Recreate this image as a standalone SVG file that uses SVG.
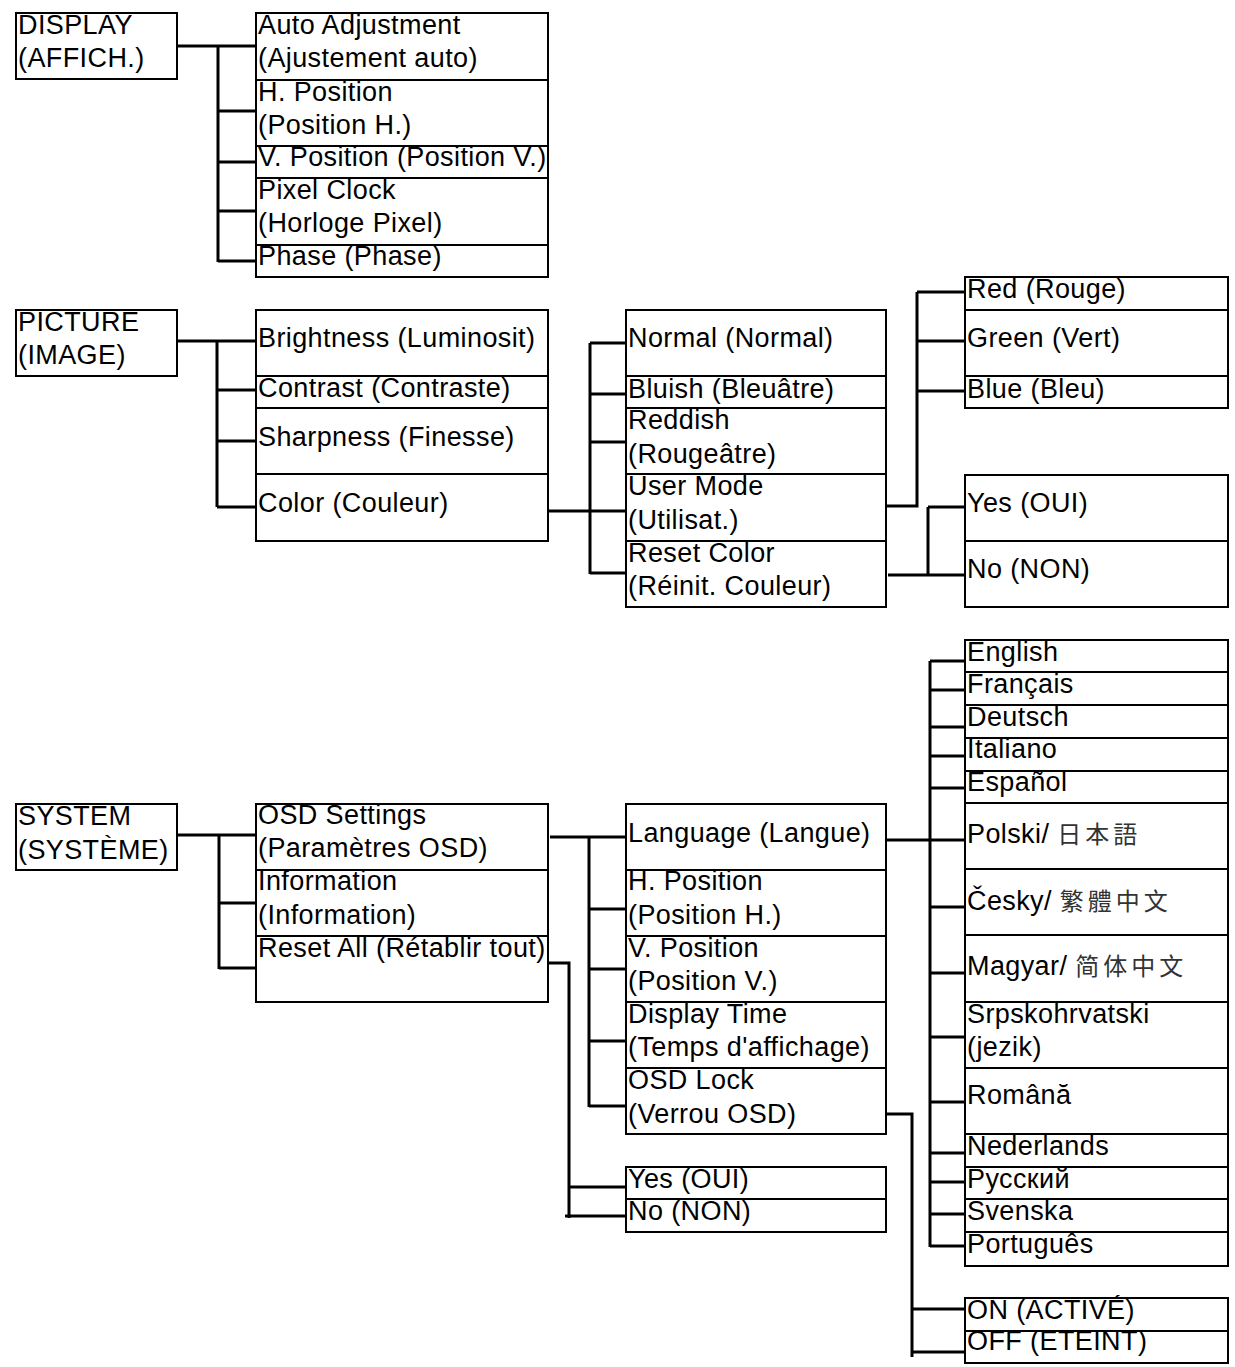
<svg xmlns="http://www.w3.org/2000/svg" width="1235" height="1367" viewBox="0 0 1235 1367">
<style>
.b{fill:#fff;stroke:#000;stroke-width:2}
.t{font-family:"Liberation Sans",Arial,sans-serif;font-size:27px;fill:#000;letter-spacing:0.4px}
.jp{font-family:"Noto Sans CJK JP",sans-serif;font-size:24px;fill:#333;letter-spacing:4px}
.tc{font-family:"Noto Sans CJK TC",sans-serif;font-size:24px;fill:#333;letter-spacing:4px}
.sc{font-family:"Noto Sans CJK SC",sans-serif;font-size:24px;fill:#333;letter-spacing:4px}
#connectors path{fill:none;stroke:#000;stroke-width:3}
</style>
<rect width="1235" height="1367" fill="#fff"/>
<g id="connectors">
<path d="M177,46H256M218,46V262M218,111H256M218,162H256M218,211H256M218,261H256"/>
<path d="M177,341H256M217,341V507M217,390H256M217,441H256M217,507H256"/>
<path d="M548,511H626M590,343V574M590,343H626M590,394H626M590,442H626M590,573H626"/>
<path d="M887,506H917V292M917,292H965M917,341H965M917,391H965"/>
<path d="M888,575H965M928,507V575M928,507H965"/>
<path d="M177,835H256M219,835V969M219,903H256M219,968H256"/>
<path d="M550,837H626M589,837V1107M589,909H626M589,969H626M589,1041H626M589,1106H626"/>
<path d="M548,963H569V1218M569,1187H626M565,1216H626"/>
<path d="M887,840H965M930,661V1247M930,661H965M930,690H965M930,727H965M930,756H965M930,788H965M930,907H965M930,973H965M930,1037H965M930,1102H965M930,1153H965M930,1182H965M930,1214H965M930,1246H965"/>
<path d="M887,1114H912V1357M912,1309H965M912,1352H965"/>
</g>
<g id="display"><rect class="b" x="16" y="13" width="161" height="66"/><text class="t" x="18" y="34">DISPLAY</text><text class="t" x="18" y="67">(AFFICH.)</text></g>
<g id="picture"><rect class="b" x="16" y="310" width="161" height="66"/><text class="t" x="18" y="331">PICTURE</text><text class="t" x="18" y="364">(IMAGE)</text></g>
<g id="system"><rect class="b" x="16" y="804" width="161" height="66"/><text class="t" x="18" y="825">SYSTEM</text><text class="t" x="18" y="859">(SYSTÈME)</text></g>

<g id="auto-adjustment"><rect class="b" x="256" y="13" width="292" height="67"/><text class="t" x="258" y="34">Auto Adjustment</text><text class="t" x="258" y="67">(Ajustement auto)</text></g>
<g id="display-h-position"><rect class="b" x="256" y="80" width="292" height="66"/><text class="t" x="258" y="101">H. Position</text><text class="t" x="258" y="134">(Position H.)</text></g>
<g id="display-v-position"><rect class="b" x="256" y="146" width="292" height="32"/><text class="t" x="258" y="166">V. Position (Position V.)</text></g>
<g id="pixel-clock"><rect class="b" x="256" y="178" width="292" height="67"/><text class="t" x="258" y="199">Pixel Clock</text><text class="t" x="258" y="232">(Horloge Pixel)</text></g>
<g id="phase"><rect class="b" x="256" y="245" width="292" height="32"/><text class="t" x="258" y="265">Phase (Phase)</text></g>

<g id="brightness"><rect class="b" x="256" y="310" width="292" height="66"/><text class="t" x="258" y="347">Brightness (Luminosit)</text></g>
<g id="contrast"><rect class="b" x="256" y="376" width="292" height="32"/><text class="t" x="258" y="397">Contrast (Contraste)</text></g>
<g id="sharpness"><rect class="b" x="256" y="408" width="292" height="66"/><text class="t" x="258" y="446">Sharpness (Finesse)</text></g>
<g id="color"><rect class="b" x="256" y="474" width="292" height="67"/><text class="t" x="258" y="512">Color (Couleur)</text></g>

<g id="normal"><rect class="b" x="626" y="310" width="260" height="66"/><text class="t" x="628" y="347">Normal (Normal)</text></g>
<g id="bluish"><rect class="b" x="626" y="376" width="260" height="32"/><text class="t" x="628" y="398">Bluish (Bleuâtre)</text></g>
<g id="reddish"><rect class="b" x="626" y="408" width="260" height="66"/><text class="t" x="628" y="429">Reddish</text><text class="t" x="628" y="463">(Rougeâtre)</text></g>
<g id="user-mode"><rect class="b" x="626" y="474" width="260" height="67"/><text class="t" x="628" y="495">User Mode</text><text class="t" x="628" y="529">(Utilisat.)</text></g>
<g id="reset-color"><rect class="b" x="626" y="541" width="260" height="66"/><text class="t" x="628" y="562">Reset Color</text><text class="t" x="628" y="595">(Réinit. Couleur)</text></g>

<g id="red"><rect class="b" x="965" y="277" width="263" height="33"/><text class="t" x="967" y="298">Red (Rouge)</text></g>
<g id="green"><rect class="b" x="965" y="310" width="263" height="66"/><text class="t" x="967" y="347">Green (Vert)</text></g>
<g id="blue"><rect class="b" x="965" y="376" width="263" height="32"/><text class="t" x="967" y="398">Blue (Bleu)</text></g>
<g id="color-yes"><rect class="b" x="965" y="475" width="263" height="66"/><text class="t" x="967" y="512">Yes (OUI)</text></g>
<g id="color-no"><rect class="b" x="965" y="541" width="263" height="66"/><text class="t" x="967" y="578">No (NON)</text></g>

<g id="osd-settings"><rect class="b" x="256" y="804" width="292" height="66"/><text class="t" x="258" y="824">OSD Settings</text><text class="t" x="258" y="857">(Paramètres OSD)</text></g>
<g id="information"><rect class="b" x="256" y="870" width="292" height="66"/><text class="t" x="258" y="890">Information</text><text class="t" x="258" y="924">(Information)</text></g>
<g id="reset-all"><rect class="b" x="256" y="936" width="292" height="66"/><text class="t" x="258" y="957">Reset All (Rétablir tout)</text></g>

<g id="language"><rect class="b" x="626" y="804" width="260" height="66"/><text class="t" x="628" y="842">Language (Langue)</text></g>
<g id="osd-h-position"><rect class="b" x="626" y="870" width="260" height="66"/><text class="t" x="628" y="890">H. Position</text><text class="t" x="628" y="924">(Position H.)</text></g>
<g id="osd-v-position"><rect class="b" x="626" y="936" width="260" height="66"/><text class="t" x="628" y="957">V. Position</text><text class="t" x="628" y="990">(Position V.)</text></g>
<g id="display-time"><rect class="b" x="626" y="1002" width="260" height="66"/><text class="t" x="628" y="1023">Display Time</text><text class="t" x="628" y="1056">(Temps d'affichage)</text></g>
<g id="osd-lock"><rect class="b" x="626" y="1068" width="260" height="66"/><text class="t" x="628" y="1089">OSD Lock</text><text class="t" x="628" y="1123">(Verrou OSD)</text></g>
<g id="reset-yes"><rect class="b" x="626" y="1167" width="260" height="32"/><text class="t" x="628" y="1188">Yes (OUI)</text></g>
<g id="reset-no"><rect class="b" x="626" y="1199" width="260" height="33"/><text class="t" x="628" y="1220">No (NON)</text></g>

<g id="english"><rect class="b" x="965" y="640" width="263" height="32"/><text class="t" x="967" y="661">English</text></g>
<g id="francais"><rect class="b" x="965" y="672" width="263" height="33"/><text class="t" x="967" y="693">Français</text></g>
<g id="deutsch"><rect class="b" x="965" y="705" width="263" height="33"/><text class="t" x="967" y="726">Deutsch</text></g>
<g id="italiano"><rect class="b" x="965" y="738" width="263" height="33"/><text class="t" x="967" y="758">Italiano</text></g>
<g id="espanol"><rect class="b" x="965" y="771" width="263" height="32"/><text class="t" x="967" y="791">Español</text></g>
<g id="polski"><rect class="b" x="965" y="803" width="263" height="66"/><text class="t" x="967" y="843">Polski/ <tspan class="jp">日本語</tspan></text></g>
<g id="cesky"><rect class="b" x="965" y="869" width="263" height="66"/><text class="t" x="967" y="910">Česky/ <tspan class="tc">繁體中文</tspan></text></g>
<g id="magyar"><rect class="b" x="965" y="935" width="263" height="67"/><text class="t" x="967" y="975">Magyar/ <tspan class="sc">简体中文</tspan></text></g>
<g id="srpskohrvatski"><rect class="b" x="965" y="1002" width="263" height="66"/><text class="t" x="967" y="1023">Srpskohrvatski</text><text class="t" x="967" y="1056">(jezik)</text></g>
<g id="romana"><rect class="b" x="965" y="1068" width="263" height="66"/><text class="t" x="967" y="1104">Română</text></g>
<g id="nederlands"><rect class="b" x="965" y="1134" width="263" height="33"/><text class="t" x="967" y="1155">Nederlands</text></g>
<g id="russian"><rect class="b" x="965" y="1167" width="263" height="32"/><text class="t" x="967" y="1188">Русский</text></g>
<g id="svenska"><rect class="b" x="965" y="1199" width="263" height="33"/><text class="t" x="967" y="1220">Svenska</text></g>
<g id="portugues"><rect class="b" x="965" y="1232" width="263" height="34"/><text class="t" x="967" y="1253">Português</text></g>
<g id="on"><rect class="b" x="965" y="1298" width="263" height="33"/><text class="t" x="967" y="1319">ON (ACTIVÉ)</text></g>
<g id="off"><rect class="b" x="965" y="1331" width="263" height="32"/><text class="t" x="967" y="1350">OFF (ETEINT)</text></g>
</svg>
